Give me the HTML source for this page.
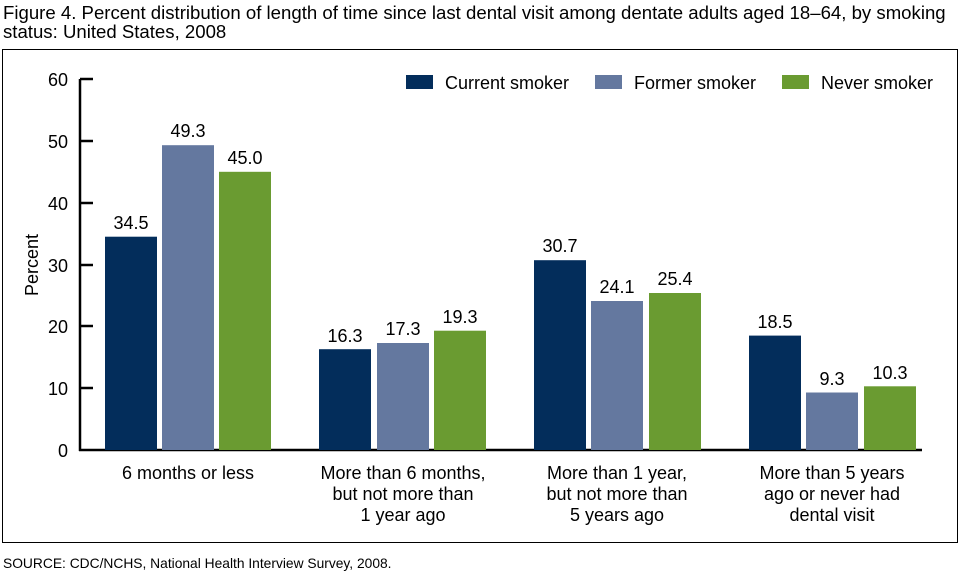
<!DOCTYPE html>
<html><head><style>body{margin:0;background:#fff}svg{display:block}text{font-family:"Liberation Sans",Arial,sans-serif;fill:#000}</style></head>
<body>
<svg width="960" height="574" viewBox="0 0 960 574">
<text x="3" y="19" font-size="18.6">Figure 4. Percent distribution of length of time since last dental visit among dentate adults aged 18–64, by smoking</text>
<text x="3" y="38" font-size="18.6">status: United States, 2008</text>
<rect x="2.5" y="49.5" width="955" height="493" fill="none" stroke="#000" stroke-width="1"/>
<text x="3" y="568" font-size="13.8">SOURCE: CDC/NCHS, National Health Interview Survey, 2008.</text>
<g stroke="#000" stroke-width="2.5">
<line x1="80" y1="79" x2="80" y2="451"/>
<line x1="79" y1="450" x2="922" y2="450"/>
<line x1="80" y1="79" x2="93" y2="79"/>
<line x1="80" y1="141" x2="93" y2="141"/>
<line x1="80" y1="203" x2="93" y2="203"/>
<line x1="80" y1="265" x2="93" y2="265"/>
<line x1="80" y1="326" x2="93" y2="326"/>
<line x1="80" y1="388" x2="93" y2="388"/>
</g>
<g font-size="18" text-anchor="end">
<text x="68" y="86">60</text><text x="68" y="148">50</text><text x="68" y="210">40</text>
<text x="68" y="272">30</text><text x="68" y="333">20</text><text x="68" y="395">10</text><text x="68" y="457">0</text>
</g>
<text transform="translate(38,265) rotate(-90)" font-size="18" text-anchor="middle">Percent</text>
<rect x="406" y="75" width="27" height="14" fill="#032d5b"/><text x="445" y="89" font-size="18">Current smoker</text>
<rect x="595" y="75" width="27" height="14" fill="#64789f"/><text x="634" y="89" font-size="18">Former smoker</text>
<rect x="782" y="75" width="27" height="14" fill="#6a9b31"/><text x="821" y="89" font-size="18">Never smoker</text>
<g font-size="18" text-anchor="middle">
<rect x="105" y="236.7" width="52" height="213.3" fill="#032d5b"/><text x="131" y="229">34.5</text>
<rect x="162" y="145.2" width="52" height="304.8" fill="#64789f"/><text x="188" y="137">49.3</text>
<rect x="219" y="171.8" width="52" height="278.2" fill="#6a9b31"/><text x="245" y="164">45.0</text>
<rect x="319" y="349.2" width="52" height="100.8" fill="#032d5b"/><text x="345" y="342">16.3</text>
<rect x="377" y="343.0" width="52" height="107.0" fill="#64789f"/><text x="403" y="335">17.3</text>
<rect x="434" y="330.7" width="52" height="119.3" fill="#6a9b31"/><text x="460" y="323">19.3</text>
<rect x="534" y="260.2" width="52" height="189.8" fill="#032d5b"/><text x="560" y="252">30.7</text>
<rect x="591" y="301.0" width="52" height="149.0" fill="#64789f"/><text x="617" y="293">24.1</text>
<rect x="649" y="293.0" width="52" height="157.0" fill="#6a9b31"/><text x="675" y="285">25.4</text>
<rect x="749" y="335.6" width="52" height="114.4" fill="#032d5b"/><text x="775" y="328">18.5</text>
<rect x="806" y="392.5" width="52" height="57.5" fill="#64789f"/><text x="832" y="385">9.3</text>
<rect x="864" y="386.3" width="52" height="63.7" fill="#6a9b31"/><text x="890" y="379">10.3</text>
<text x="188" y="479">6 months or less</text>
<text x="403" y="479">More than 6 months,</text><text x="403" y="500">but not more than</text><text x="403" y="521">1 year ago</text>
<text x="617" y="479">More than 1 year,</text><text x="617" y="500">but not more than</text><text x="617" y="521">5 years ago</text>
<text x="832" y="479">More than 5 years</text><text x="832" y="500">ago or never had</text><text x="832" y="521">dental visit</text>
</g>
</svg>
</body></html>
